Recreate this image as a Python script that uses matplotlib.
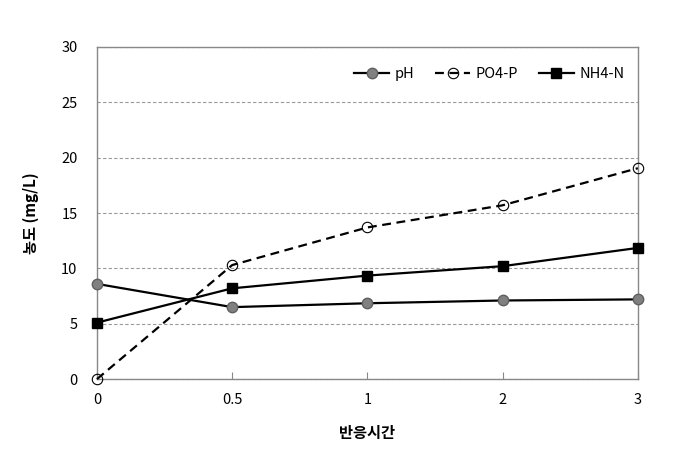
import matplotlib
matplotlib.use("Agg")
import matplotlib.pyplot as plt

plt.rcParams["font.family"] = ["Noto Sans CJK KR", "DejaVu Sans"]

# reaction time categories (equally spaced on the chart)
time_labels = ["0", "0.5", "1", "2", "3"]
ph = [8.6, 6.5, 6.85, 7.1, 7.2]
po4_p = [0.0, 10.3, 13.7, 15.7, 19.05]
nh4_n = [5.1, 8.2, 9.35, 10.2, 11.85]

x = list(range(len(time_labels)))

fig = plt.figure(figsize=(6.8, 4.54), dpi=100)
ax = fig.add_axes([0.1426, 0.165, 0.7954, 0.7315])

ax.plot(x, ph, color="black", linewidth=1.6, marker="o", markersize=7.5,
        markerfacecolor="#808080", markeredgecolor="#606060", label="pH",
        zorder=3, clip_on=False)
ax.plot(x, po4_p, color="black", linewidth=1.6, linestyle=(0, (4, 2.5)), marker="o",
        markersize=7.5, markerfacecolor="none", markeredgecolor="black",
        markeredgewidth=0.8, label="PO4-P", zorder=3, clip_on=False)
ax.plot(x, nh4_n, color="black", linewidth=1.6, marker="s", markersize=6.5,
        markerfacecolor="black", markeredgecolor="black", label="NH4-N",
        zorder=3, clip_on=False)

ax.set_xlim(0, len(time_labels) - 1)
ax.set_ylim(0, 30)
ax.set_yticks(range(0, 31, 5))
ax.set_xticks(x)
ax.set_xticklabels(time_labels)

ax.yaxis.grid(True, color="#999999", linestyle=(0, (3, 2)), linewidth=0.8)
ax.set_axisbelow(True)
for side in ax.spines.values():
    side.set_color("#888888")
    side.set_linewidth(1.0)

ax.tick_params(axis="y", length=0, pad=14, labelsize=10.5, colors="black")
ax.tick_params(axis="x", direction="in", length=5, color="#888888", pad=10,
               labelsize=10.5)

ax.set_xlabel("반응시간", fontsize=11, fontweight="bold", labelpad=13)
ax.set_ylabel("농도 (mg/L)", fontsize=11, fontweight="bold", labelpad=16)

ax.legend(loc="upper right", ncol=3, frameon=False, fontsize=10.5,
          handlelength=2.4, columnspacing=1.4, handletextpad=0.4,
          bbox_to_anchor=(1.0, 0.98))

fig.savefig("out.png", dpi=100)
